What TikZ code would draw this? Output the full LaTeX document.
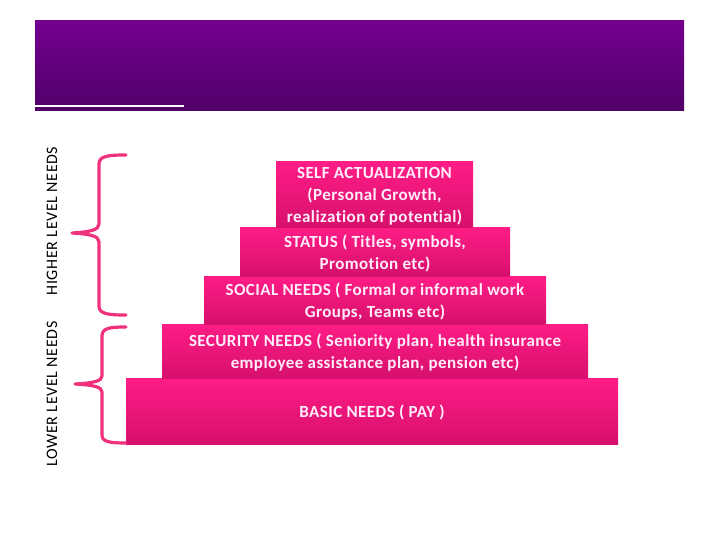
\documentclass[tikz,border=0pt]{standalone}
\usepackage{fontspec}
\setmainfont{Carlito}
\newfontfamily\boxfont[LetterSpace=2.5,Ligatures=NoCommon]{Carlito}
\newfontfamily\sidefont[LetterSpace=4]{Carlito}
\definecolor{hdrtop}{RGB}{116,0,144}
\definecolor{hdrbot}{RGB}{80,0,104}
\definecolor{boxtop}{RGB}{255,28,134}
\definecolor{boxbot}{RGB}{214,16,108}
\definecolor{brace}{RGB}{240,50,125}
\definecolor{txt}{RGB}{255,238,250}
\begin{document}
\begin{tikzpicture}[x=1pt,y=-1pt,
  level/.style={rectangle,inner sep=0pt,top color=boxtop,bottom color=boxbot,draw=none},
  leveltext/.style={inner sep=0pt,yshift=-1.5pt,text=txt,font=\boxfont\fontsize{17}{22}\selectfont\bfseries,align=center},
  bracepath/.style={draw=brace,line width=3.2pt,line cap=round,line join=round},
  sidelabel/.style={rotate=90,font=\sidefont\fontsize{16}{18}\selectfont,text=black,inner sep=0pt}]
\useasboundingbox (0,0) rectangle (720,540);
\fill[white] (0,0) rectangle (720,540);
% header
\node[rectangle,inner sep=0pt,minimum width=649pt,minimum height=90pt,top color=hdrtop,bottom color=hdrbot] (header) at (359.5,66) {};
\coordinate (ls) at (35,106);
\coordinate (le) at (184,106);
\draw[white,line width=1.6pt] (ls) -- (le);
% pyramid boxes
\node[level,minimum width=492pt,minimum height=66pt] (basic) at (372,411) {};
\node[level,minimum width=426pt,minimum height=54pt] (security) at (375,351) {};
\node[level,minimum width=342pt,minimum height=48pt] (social) at (375,300) {};
\node[level,minimum width=270pt,minimum height=48pt] (status) at (375,252) {};
\node[level,minimum width=197pt,minimum height=66pt] (self) at (374.5,195) {};
% pyramid texts
\node[leveltext] (basictext) at (basic.center) {BASIC NEEDS ( PAY )};
\node[leveltext] (securitytext) at (security.center) {SECURITY NEEDS ( Seniority plan, health insurance\\employee assistance plan, pension etc)};
\node[leveltext] (socialtext) at (social.center) {SOCIAL NEEDS ( Formal or informal work\\Groups, Teams etc)};
\node[leveltext] (statustext) at (status.center) {STATUS ( Titles, symbols,\\Promotion etc)};
\node[leveltext] (selftext) at (self.center) {SELF ACTUALIZATION\\(Personal Growth,\\realization of potential)};
% braces
\draw[bracepath] (126,155) .. controls (108,155) and (99,156) .. (99,164) -- (99,224)
  .. controls (99,230) and (90,232) .. (72,233)
  .. controls (90,234) and (99,236) .. (99,242) -- (99,306)
  .. controls (99,314) and (108,315) .. (126,315);
\draw[bracepath] (126,327) .. controls (110,327) and (102,328) .. (102,336) -- (102,376)
  .. controls (102,381) and (94,383) .. (75,384)
  .. controls (94,385) and (102,387) .. (102,392) -- (102,435)
  .. controls (102,442) and (110,443) .. (126,443);
% side labels
\node[sidelabel] (higher) at (52,221) {HIGHER LEVEL NEEDS};
\node[sidelabel] (lower) at (52,394) {LOWER LEVEL NEEDS};
\end{tikzpicture}
\end{document}
